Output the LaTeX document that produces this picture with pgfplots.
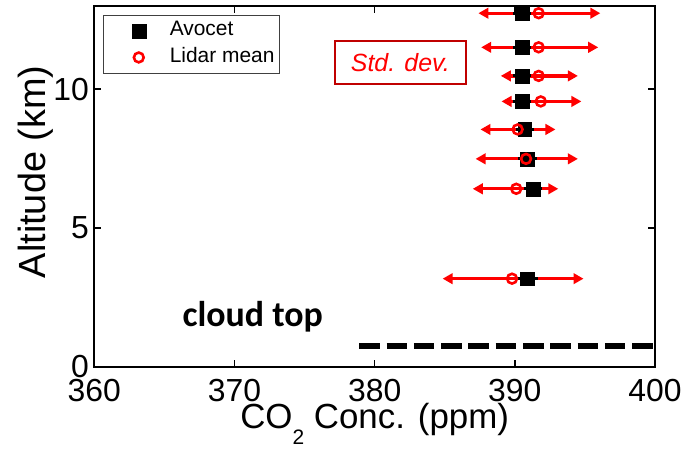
\documentclass[border=0pt]{standalone}
\usepackage{fontspec}
\setmainfont{Liberation Sans}
\newfontfamily\cloudfont{Carlito}
\usepackage{pgfplots}
\usepackage{pgfplotstable}
\pgfplotsset{compat=1.18}
\usetikzlibrary{arrows.meta}
\definecolor{darkred}{RGB}{192,0,0}

% y, Avocet x, Avocet err, Lidar mean x, std-dev lower end, std-dev upper end
\pgfplotstableread{
y     sq     se    cx      lo      hi
12.74 390.5  0.65  391.7   387.4   396.1
11.51 390.5  0.65  391.7   387.6   395.95
10.48 390.5  0.65  391.7   389.0   394.5
9.56  390.5  0.65  391.85  389.05  394.75
8.55  390.7  0.65  390.2   387.55  392.9
7.49  390.9  0.65  390.8   387.2   394.5
6.41  391.3  0.65  390.1   387.0   393.1
3.17  390.9  0.75  389.8   384.85  394.9
}\data

\begin{document}
\begin{tikzpicture}
\begin{axis}[
  scale only axis, width=560.7bp, height=360.6bp,
  xmin=360, xmax=400, ymin=0, ymax=13,
  clip=false,
  xtick={360,370,380,390,400}, ytick={0,5,10},
  tick align=inside, major tick length=7bp,
  axis line style={line width=2bp},
  tick style={line width=1.5bp, black},
  /pgf/number format/assume math mode=true,
  ticklabel style={font=\fontsize{32}{36}\selectfont},
  xticklabel style={yshift=-9bp},
  yticklabel style={xshift=-2bp},
  xlabel={CO\raisebox{-0.45em}{\fontsize{21}{21}\selectfont 2} Conc. (ppm)},
  xlabel style={font=\fontsize{35}{40}\selectfont, at={(axis description cs:0.5,-0.172)}, anchor=base},
  ylabel={Altitude (km)},
  ylabel style={font=\fontsize{38}{44}\selectfont, at={(axis description cs:-0.0879,0.54)}, anchor=base},
  legend style={at={(rel axis cs:0.016,0.976)}, anchor=north west, draw=black!75, line width=1bp,
    font=\fontsize{21}{24}\selectfont, inner xsep=5bp, inner ysep=6.6bp, row sep=8.7bp,
    nodes={inner sep=0pt, text height=14bp, text depth=4bp}, cells={anchor=west}},
  legend image code/.code={\path[draw=none] (0bp,-5bp) rectangle (61bp,5bp); \draw[#1] plot coordinates {(30bp,0bp)};},
]
\coordinate (SW) at (rel axis cs:0,0);
% std-dev arrows
\addplot[red, line width=3.3bp, -{Triangle[length=10bp,width=10.5bp]}, quiver={u=\thisrow{hi}-\thisrow{cx}, v=0}, forget plot] table[x=cx, y=y] {\data};
\addplot[red, line width=3.3bp, -{Triangle[length=10bp,width=10.5bp]}, quiver={u=\thisrow{lo}-\thisrow{cx}, v=0}, forget plot] table[x=cx, y=y] {\data};
% Avocet
\addplot[only marks, mark=square*, mark size=6.9bp, mark options={fill=black, draw=black, line width=0.3bp},
  error bars/.cd, x dir=both, x explicit, error mark=none, error bar style={line width=3bp, black}]
  table[x=sq, y=y, x error=se] {\data};
\addlegendentry{Avocet}
% Lidar mean
\addplot[only marks, mark=o, mark size=4.9bp, mark options={draw=red, line width=2.6bp}]
  table[x=cx, y=y] {\data};
\addlegendentry{Lidar mean}
% cloud top
\addplot[black, line width=6bp, dash pattern=on 20.5bp off 6.8bp, forget plot] coordinates {(378.9,0.75) (400,0.75)};
\node[font=\cloudfont\bfseries\fontsize{36}{40}\selectfont, anchor=base] at (axis cs:371.3,1.44) {cloud top};
\node[font=\fontsize{25}{30}\selectfont\itshape, text=red, draw=darkred, line width=2bp,
  minimum width=130.7bp, minimum height=42.6bp, inner sep=0pt] at (axis cs:381.83,10.97) {Std. dev.};
\end{axis}
\pgfresetboundingbox
\useasboundingbox ([shift={(-94.3bp,-83.4bp)}]SW) rectangle ++(695bp,450bp);
\end{tikzpicture}
\end{document}
